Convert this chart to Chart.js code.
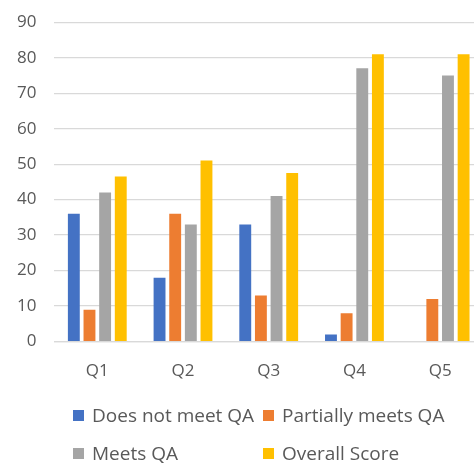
<!DOCTYPE html>
<html><head><meta charset="utf-8">
<script src="https://cdn.jsdelivr.net/npm/chart.js@4"></script>
<style>
html,body{margin:0;padding:0;background:#fff;overflow:hidden;width:474px;height:464px;}
#wrap{position:absolute;left:-1px;top:-6px;width:484px;height:470px;}
#legend{position:absolute;left:0;top:0;width:474px;height:464px;font-family:"Open Sans",sans-serif;color:#595959;font-size:19px;pointer-events:none;}
.item{position:absolute;display:flex;align-items:center;white-space:nowrap;height:24px;}
.sw{width:11px;height:11px;margin-right:8px;display:inline-block;}
</style></head><body>
<div id="wrap"><canvas id="c"></canvas></div>
<div id="legend"></div>
<script>
const categories = ["Q1","Q2","Q3","Q4","Q5"];
const seriesNames = ["Does not meet QA","Partially meets QA","Meets QA","Overall Score"];
const doesNotMeet = [36,18,33,2,0];
const partiallyMeets = [9,36,13,8,12];
const meets = [42,33,41,77,75];
const overall = [46.5,51,47.5,81,81];
const yTicks = [0,10,20,30,40,50,60,70,80,90];
const colors = ["#4472C4","#ED7D31","#A5A5A5","#FFC000"];
const values = [doesNotMeet, partiallyMeets, meets, overall];

const ctx = document.getElementById('c');
new Chart(ctx, {
  type: 'bar',
  data: {
    labels: categories,
    datasets: seriesNames.map((n,i)=>({label:n,data:values[i],backgroundColor:colors[i],categoryPercentage:0.73,barPercentage:0.76}))
  },
  options: {
    responsive:true, maintainAspectRatio:false, animation:false,
    layout:{padding:{top:5,bottom:72,left:0,right:0}},
    plugins:{legend:{display:false},tooltip:{enabled:false}},
    scales:{
      x:{grid:{display:false},border:{display:true,color:'#d9d9d9',width:1.3},
         ticks:{color:'#595959',font:{family:'Open Sans',size:17},padding:11}},
      y:{min:0,max:90,afterBuildTicks:(s)=>{s.ticks=yTicks.map(v=>({value:v}));},
         grid:{color:'#d9d9d9',lineWidth:1.3,drawTicks:false},border:{display:false},
         ticks:{color:'#595959',font:{family:'Open Sans',size:17},padding:18}}
    }
  }
});
const lg = document.getElementById('legend');
const pos = [[73,403],[263,403],[73,441],[263,441]];
seriesNames.forEach((n,i)=>{
  const d=document.createElement('div');d.className='item';
  d.style.left=pos[i][0]+'px';d.style.top=pos[i][1]+'px';
  d.innerHTML='<span class="sw" style="background:'+colors[i]+'"></span><span>'+n+'</span>';
  lg.appendChild(d);
});
</script></body></html>
